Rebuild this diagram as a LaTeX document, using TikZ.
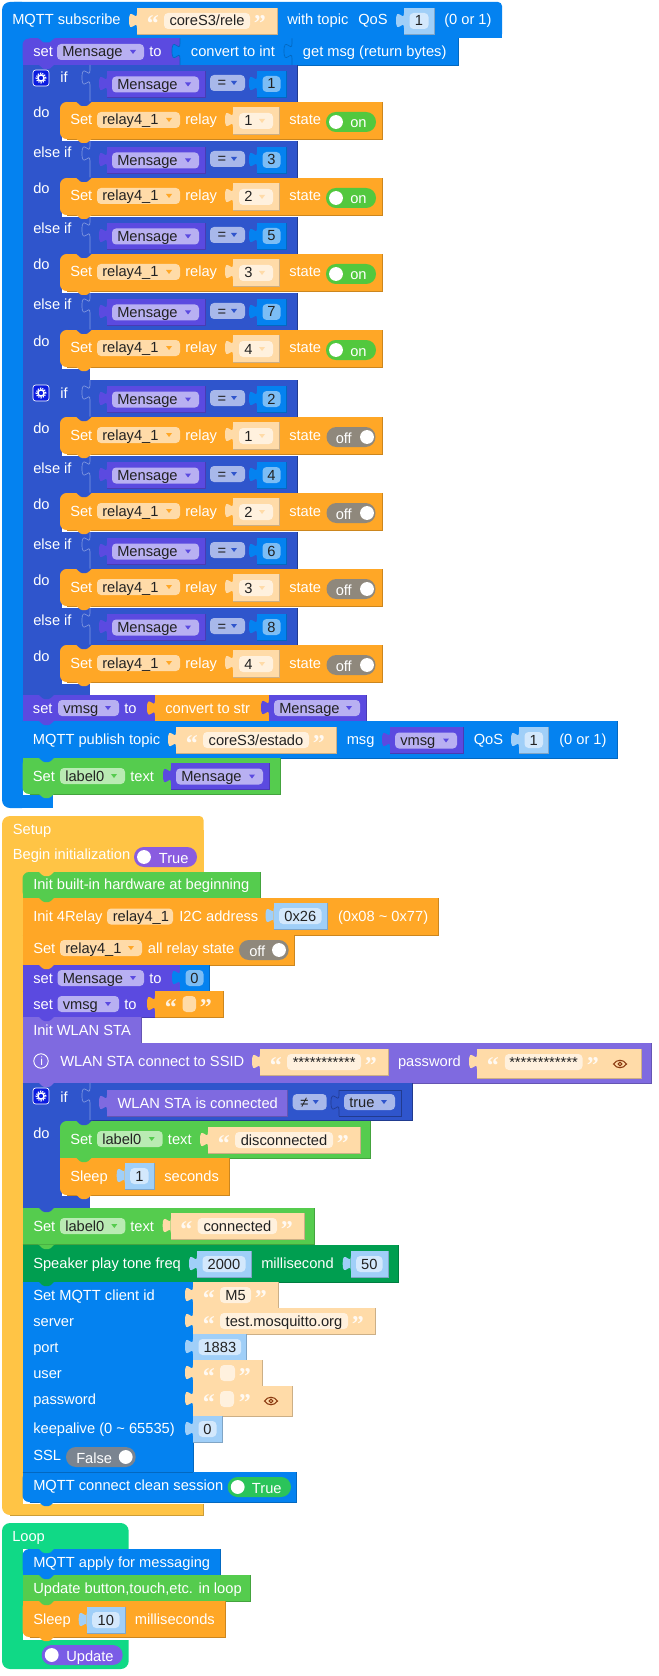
\documentclass[tikz,border=0pt]{standalone}
\usepackage{fontspec}
\setmainfont{Liberation Sans}
\newfontfamily\qtfont{Liberation Serif}

\definecolor{mqttblue}{HTML}{0482F0}
\definecolor{ifblue}{HTML}{2F55CC}
\definecolor{varpurple}{HTML}{5B4AE0}
\definecolor{varfield}{HTML}{B8B0F2}
\definecolor{wlanpurple}{HTML}{7F6AE0}
\definecolor{relayorange}{HTML}{FFA726}
\definecolor{strpeach}{HTML}{FFDBA8}
\definecolor{strfield}{HTML}{FFF1DE}
\definecolor{okgreen}{HTML}{55CC4E}
\definecolor{okfield}{HTML}{B9EBB3}
\definecolor{setupyellow}{HTML}{FFC445}
\definecolor{loopgreen}{HTML}{10D986}
\definecolor{speakergreen}{HTML}{009E50}
\definecolor{numlight}{HTML}{A0CFF8}
\definecolor{numfield}{HTML}{D3E8FC}
\definecolor{numsky}{HTML}{7CBDF5}
\definecolor{opfield}{HTML}{A8B8EA}
\definecolor{offgrey}{HTML}{8F887C}
\definecolor{falsegrey}{HTML}{7A8490}
\definecolor{ongreen}{HTML}{52C83E}
\definecolor{truegreen}{HTML}{2BC45A}
\definecolor{togglepurple}{HTML}{8A5CE0}
\definecolor{updatepurple}{HTML}{7A5CE6}
\definecolor{eyered}{HTML}{8B3A10}
\definecolor{gearblue}{HTML}{0A1BE0}
\definecolor{darktext}{HTML}{222222}

\tikzset{
  lbl/.style={font=\fontsize{11}{13}\selectfont, text=white, inner sep=0pt, anchor=base west},
  dk/.style={font=\fontsize{11}{13}\selectfont, text=darktext, inner sep=0pt, anchor=base west},
  dkc/.style={dk, anchor=base},
  qt/.style={font=\qtfont\bfseries\fontsize{18}{18}\selectfont, text=white, opacity=.85, inner sep=0pt, anchor=base west},
  edge/.style={line width=.5pt}
}

% flat block with its darker lower and right edge
\newcommand{\blk}[5]{
  \fill[#1] ({#2},{#3}) rectangle ({#4},{#5});
  \draw[edge,#1!80!black] ({#2},{#5}) -- ({#4},{#5}) -- ({#4},{#3});
}
% block rounded on its left side
\newcommand{\blkr}[5]{
  \fill[#1,rounded corners=5pt] ({#2},{#3}) rectangle ({#2+14},{#5});
  \fill[#1] ({#2+7},{#3}) rectangle ({#4},{#5});
  \draw[edge,#1!80!black] ({#2+7},{#5}) -- ({#4},{#5}) -- ({#4},{#3});
}
% rounded only at the top left
\newcommand{\blkt}[5]{
  \blkr{#1}{#2}{#3}{#4}{#5}
  \fill[#1] ({#2},{#5-8}) rectangle ({#2+8},{#5});
}
\newcommand{\tabin}[3]{
  \fill[#3,shift={({#1},{#2})}] (0,5) .. controls (0,15) and (-8,-3) .. (-8,12.5) .. controls (-8,28) and (0,10) .. (0,20) -- cycle;
}
% outline of a tab on a block of the same colour
\newcommand{\tabline}[4]{
  \draw[edge,#3,shift={({#1},{#2})}] (0,0) -- (0,5) .. controls (0,15) and (-8,-3) .. (-8,12.5) .. controls (-8,28) and (0,10) .. (0,20) -- (0,#4);
}
\newcommand{\notch}[3]{
  \fill[#3,shift={({#1},{#2})}] (15,-.5) .. controls (18,-.5) and (19,4) .. (22,4) -- (26,4) .. controls (29,4) and (30,-.5) .. (33,-.5) -- cycle;
}
\newcommand{\arrowdn}[3]{
  \fill[#3,shift={({#1},{#2})}] (-3,-2) -- (3,-2) -- (0,2) -- cycle;
}
% dropdown field: name, x1, y, x2, field colour, triangle colour, text
\newcommand{\fldd}[7]{
  \fill[#5,rounded corners=3pt] ({#2},{#3}) rectangle ({#4},{#3+16});
  \node[dk] (#1) at ({#2+5},{#3+13}) {#7};
  \arrowdn{#4-11}{#3+8}{#6}
}
\newcommand{\strval}[5]{
  \tabin{#2}{#3}{strpeach}
  \blk{strpeach}{#2}{#3}{#4}{#3+26}
  \fill[strfield,rounded corners=3pt] ({#2+27},{#3+5}) rectangle ({#4-27},{#3+21});
  \node[qt] (#1l) at ({#2+9.5},{#3+24}) {“};
  \node[qt] (#1r) at ({#4-23.5},{#3+24}) {”};
  \node[dkc] (#1) at ({(#2+#4)/2},{#3+18}) {#5};
}
% number block: name, x1, y, x2, block colour, field colour, text
\newcommand{\numval}[7]{
  \tabin{#2}{#3}{#5}
  \blk{#5}{#2}{#3}{#4}{#3+26}
  \fill[#6,rounded corners=3pt] ({#2+5.5},{#3+5}) rectangle ({#4-5.5},{#3+21});
  \node[dkc] (#1) at ({(#2+#4)/2},{#3+18}) {#7};
}
\newcommand{\varval}[5]{
  \tabin{#2}{#3}{varpurple}
  \blk{varpurple}{#2}{#3}{#4}{#3+26}
  \fldd{#1}{#2+5}{#3+5.5}{#4-6}{varfield}{varpurple}{#5}
}
% pill: name, x1, y, x2, colour, knob x, text x, text
\newcommand{\pill}[8]{
  \fill[#5,rounded corners=7.4pt] ({#2},{#3}) rectangle ({#4},{#3+20});
  \fill[white] ({#6},{#3+10}) circle (5.2pt);
  \node[lbl] (#1) at ({#7},{#3+16}) {#8};
}
\newcommand{\relayrow}[4]{
  \blkr{relayorange}{60}{#2}{382}{#2+37}
  \notch{60}{#2}{ifblue}
  \node[lbl] (#1set) at (70,{#2+23}) {Set};
  \fldd{#1dev}{97}{#2+10}{180}{strpeach}{relayorange}{relay4\_1}
  \node[lbl] (#1rel) at (185,{#2+23}) {relay};
  \tabin{233}{#2+5}{strpeach}
  \blk{strpeach}{233}{#2+5}{279}{#2+32}
  \fill[strfield,rounded corners=3pt] (239,{#2+11}) rectangle (273,{#2+27});
  \node[dk] (#1num) at (244,{#2+24}) {#3};
  \arrowdn{262}{#2+19}{strpeach}
  \node[lbl] (#1sta) at (289,{#2+23}) {state};
  #4
  \notch{60}{#2+37}{relayorange}
}
\newcommand{\onpill}[2]{\pill{#1}{326}{#2+10}{376}{ongreen}{336}{350}{on}}
\newcommand{\offpill}[2]{\pill{#1}{326.5}{#2+10}{375.5}{offgrey}{367}{335.5}{off}}
\newcommand{\ifrow}[3]{
  \fill[ifblue] (90,{#2}) rectangle (297,{#2+37});
  \draw[edge,ifblue!70!black] (90,{#2+37}) -- (297,{#2+37}) -- (297,{#2});
  \tabline{90}{#2}{ifblue!60!white}{37}
  \varval{#1var}{107}{#2+6}{205}{Mensage}
  \fldd{#1op}{210}{#2+10}{245}{opfield}{ifblue}{\,=}
  \numval{#1num}{257}{#2+6}{286}{mqttblue}{numsky}{#3}
}
\newcommand{\gear}[1]{
  \fill[gearblue,draw=white,edge,rounded corners=2pt] (33,{#1}) rectangle (49,{#1+16});
  \draw[white,line width=1.1pt] (41,{#1+8}) circle (2.3pt);
  \draw[white,line width=1pt,dash pattern=on .9pt off .9pt] (41,{#1+8}) circle (3.6pt);
}
\newcommand{\eye}[2]{
  \draw[eyered,line width=.8pt,shift={(#1,#2)}] (-6.5,0) .. controls (-3,-5) and (3,-5) .. (6.5,0) .. controls (3,5) and (-3,5) .. (-6.5,0) -- cycle;
  \draw[eyered,line width=.8pt] (#1,#2) circle (1.4pt);
}

\begin{document}
\begin{tikzpicture}[x=.75pt,y=-.75pt]
    \useasboundingbox (0,0) rectangle (658,1676);

    % subscribe block
    \fill[mqttblue,rounded corners=6pt] (2,2) rectangle (30,808);
    \fill[mqttblue,rounded corners=3pt] (10,2) rectangle (502,38);
    \fill[mqttblue] (10,30) rectangle (502,38);
    \fill[mqttblue] (10,795) rectangle (53,808);
    \node[lbl] (subtxt) at (12,25) {MQTT subscribe};
    \strval{subtopic}{137}{8}{277}{coreS3/rele}
    \node[lbl] (subwith) at (287,25) {with topic};
    \node[lbl] (subqos) at (358,25) {QoS};
    \numval{subnum}{404}{8}{434}{numlight}{numfield}{1}
    \node[lbl] (subrange) at (444,25) {(0 or 1)};

    \blkt{varpurple}{22.5}{38.5}{180}{65}
    \notch{22.5}{38.5}{mqttblue}
    \node[lbl] (settxt) at (33,57) {set};
    \fldd{setvar}{57}{44}{144}{varfield}{varpurple}{Mensage}
    \node[lbl] (setto) at (149,57) {to};
    \blk{mqttblue}{180}{38.5}{292}{65}
    \tabin{180}{39}{mqttblue}
    \tabline{180}{38.5}{mqttblue!80!black}{26.5}
    \node[lbl] (convint) at (190.7,57) {convert to int};
    \blk{mqttblue}{292}{38.5}{458}{65}
    \tabin{292}{39}{mqttblue}
    \tabline{292}{38.5}{mqttblue!80!black}{26.5}
    \node[lbl] (getmsg) at (302.7,57) {get msg (return bytes)};

    % first if
    \fill[ifblue] (22.5,65) rectangle (60,379);
    \fill[ifblue] (60,65) rectangle (90,379);
    \fill[white] (62,130) rectangle (90,141);
    \fill[white] (62,206) rectangle (90,217);
    \fill[white] (62,282) rectangle (90,293);
    \fill[white] (62,358) rectangle (90,369);
    \notch{22.5}{65}{varpurple}
    \gear{70}
    \node[lbl] (ifa) at (60,83) {if};
    \node[lbl] (doa) at (33,118) {do};
    \ifrow{ra}{65}{1}
    \relayrow{rb}{102}{1}{\onpill{pb}{102}}
    \node[lbl] (elb) at (33,158) {else if};
    \node[lbl] (dob) at (33,194) {do};
    \ifrow{rc}{141}{3}
    \relayrow{rd}{178}{2}{\onpill{pd}{178}}
    \node[lbl] (elc) at (33,234) {else if};
    \node[lbl] (doc) at (33,270) {do};
    \ifrow{re}{217}{5}
    \relayrow{rf}{254}{3}{\onpill{pf}{254}}
    \node[lbl] (eld) at (33,310) {else if};
    \node[lbl] (dod) at (33,346) {do};
    \ifrow{rg}{293}{7}
    \relayrow{rh}{330}{4}{\onpill{ph}{330}}

    % second if
    \fill[ifblue] (22.5,379) rectangle (60,695);
    \fill[ifblue] (60,379) rectangle (90,695);
    \fill[white] (62,445) rectangle (90,456);
    \fill[white] (62,521) rectangle (90,532);
    \fill[white] (62,597) rectangle (90,608);
    \fill[white] (62,673) rectangle (90,684);
    \notch{22.5}{379}{ifblue}
    \gear{385}
    \node[lbl] (ifb) at (60,398) {if};
    \node[lbl] (doe) at (33,433) {do};
    \ifrow{sa}{380}{2}
    \relayrow{sb}{417}{1}{\offpill{qb}{417}}
    \node[lbl] (ele) at (33,473) {else if};
    \node[lbl] (dof) at (33,509) {do};
    \ifrow{sc}{456}{4}
    \relayrow{sd}{493}{2}{\offpill{qd}{493}}
    \node[lbl] (elf) at (33,549) {else if};
    \node[lbl] (dog) at (33,585) {do};
    \ifrow{se}{532}{6}
    \relayrow{sf}{569}{3}{\offpill{qf}{569}}
    \node[lbl] (elg) at (33,625) {else if};
    \node[lbl] (doh) at (33,661) {do};
    \ifrow{sg}{608}{8}
    \relayrow{sh}{645}{4}{\offpill{qh}{645}}

    % publish part
    \blk{varpurple}{22.5}{695}{155}{721}
    \node[lbl] (setv) at (32.7,713) {set};
    \fldd{setvvar}{58}{700}{119}{varfield}{varpurple}{vmsg}
    \node[lbl] (setvto) at (124,713) {to};
    \blk{relayorange}{155}{695}{269}{721}
    \tabin{155}{695.5}{relayorange}
    \node[lbl] (convstr) at (165,713) {convert to str};
    \tabin{269}{695}{varpurple}
    \blk{varpurple}{269}{695}{366}{721}
    \fldd{convvar}{274}{700}{360}{varfield}{varpurple}{Mensage}
    \notch{22.5}{695}{ifblue}

    \blk{mqttblue}{22.5}{721}{617}{758}
    \node[lbl] (pubtxt) at (32.7,744) {MQTT publish topic};
    \strval{pubtopic}{176}{727}{336}{coreS3/estado}
    \node[lbl] (pubmsg) at (346.5,744) {msg};
    \varval{pubvar}{390}{727}{463}{vmsg}
    \node[lbl] (pubqos) at (473.5,744) {QoS};
    \numval{pubnum}{519}{727}{548.5}{numlight}{numfield}{1}
    \node[lbl] (pubrange) at (559,744) {(0 or 1)};
    \notch{22.5}{721}{varpurple}

    \fill[white] (22.5,780) rectangle (53,795);
    \blkr{okgreen}{22.5}{758}{280}{794}
    \fill[okgreen] (22.5,758) rectangle (32,780);
    \node[lbl] (lbltxt) at (32.7,781) {Set};
    \fldd{lblfld}{60}{768}{125}{okfield}{okgreen}{label0}
    \node[lbl] (lbltext) at (130,781) {text};
    \varval{lblvar}{171}{763}{269}{Mensage}
    \notch{22.5}{758}{mqttblue}
    \notch{22.5}{794}{okgreen}

    % setup block
    \fill[setupyellow,rounded corners=6pt] (2,816) rectangle (30,1515);
    \fill[setupyellow,rounded corners=3pt] (10,816) rectangle (203.5,872);
    \fill[setupyellow] (10,830) rectangle (203.5,872);
    \fill[setupyellow] (10,1504) rectangle (203,1515);
    \draw[edge,setupyellow!80!black] (10,1515) -- (203,1515) -- (203,1504);
    \node[lbl] (setuptxt) at (12.6,834) {Setup};
    \node[lbl] (begintxt) at (12.6,859) {Begin initialization};
    \pill{begintog}{134}{847}{197}{togglepurple}{144}{158.6}{True}

    \blkt{okgreen}{22.5}{872}{260}{898}
    \notch{22.5}{872}{setupyellow}
    \node[lbl] (hwtxt) at (33,889) {Init built-in hardware at beginning};
    \blk{relayorange}{22.5}{898}{438}{935}
    \notch{22.5}{898}{okgreen}
    \node[lbl] (inittxt) at (33,921) {Init 4Relay};
    \fill[strpeach,rounded corners=3pt] (107,908.5) rectangle (173,924.5);
    \node[dk] (initdev) at (112.5,921) {relay4\_1};
    \node[lbl] (initaddr) at (179,921) {I2C address};
    \numval{initnum}{273.6}{903}{327}{numlight}{numfield}{0x26}
    \node[lbl] (initrange) at (337.8,921) {(0x08 \textasciitilde{} 0x77)};

    \blk{relayorange}{22.5}{935}{294.6}{965}
    \notch{22.5}{935}{relayorange}
    \node[lbl] (alltxt) at (33,953) {Set};
    \fldd{alldev}{60}{940}{142}{strpeach}{relayorange}{relay4\_1}
    \node[lbl] (allstate) at (147.7,953) {all relay state};
    \pill{alltog}{239}{940}{288.7}{offgrey}{279}{249}{off}

    \blk{varpurple}{22.5}{965}{180}{991}
    \notch{22.5}{965}{relayorange}
    \node[lbl] (set0) at (33,983) {set};
    \fldd{set0var}{57.5}{970}{144}{varfield}{varpurple}{Mensage}
    \node[lbl] (set0to) at (149,983) {to};
    \numval{set0num}{180}{965}{209}{mqttblue}{numsky}{0}

    \blk{varpurple}{22.5}{991}{155}{1017}
    \notch{22.5}{991}{varpurple}
    \node[lbl] (set1) at (33,1009) {set};
    \fldd{set1var}{57.5}{996}{119}{varfield}{varpurple}{vmsg}
    \node[lbl] (set1to) at (124,1009) {to};
    \tabin{155}{991}{relayorange}
    \blk{relayorange}{155}{991}{223.7}{1017}
    \fill[strpeach,rounded corners=3pt] (182.5,996) rectangle (196,1012);
    \node[qt] (set1l) at (164.5,1015) {“};
    \node[qt] (set1r) at (199.5,1015) {”};

    \blk{wlanpurple}{22.5}{1017}{141}{1043}
    \notch{22.5}{1017}{varpurple}
    \node[lbl] (wlantxt) at (33,1035) {Init WLAN STA};

    \blk{wlanpurple}{22.5}{1043}{651.6}{1083}
    \notch{22.5}{1043}{wlanpurple}
    \draw[white,line width=.7pt] (41,1061) circle (5.4pt);
    \node[lbl,font=\fontsize{9}{9}\selectfont] (wlaninfo) at (40,1065) {i};
    \node[lbl] (wlancon) at (60,1066) {WLAN STA connect to SSID};
    \strval{wlanssid}{260}{1049}{388}{}
    \node[dk] (ssidstar) at (292.5,1067) {***********};
    \node[lbl] (wlanpw) at (397.8,1066) {password};
    \tabin{477}{1049}{strpeach}
    \blk{strpeach}{477}{1049}{641}{1078}
    \fill[strfield,rounded corners=3pt] (504.8,1054) rectangle (582.5,1070);
    \node[qt] (pwl) at (486.5,1073) {“};
    \node[qt] (pwr) at (586.5,1073) {”};
    \node[dk] (pwstar) at (509,1067) {************};
    \eye{620}{1064}

    % wlan if
    \fill[ifblue] (22.5,1083) rectangle (90,1208);
    \fill[white] (62,1186) rectangle (90,1196);
    \fill[ifblue] (90,1083) rectangle (412.7,1120.7);
    \draw[edge,ifblue!70!black] (90,1120.7) -- (412.7,1120.7) -- (412.7,1083);
    \tabline{90}{1083}{ifblue!60!white}{37}
    \notch{22.5}{1083}{wlanpurple}
    \gear{1088}
    \node[lbl] (ifc) at (60,1102) {if};
    \node[lbl] (doi) at (33,1138) {do};
    \tabin{107}{1090}{wlanpurple}
    \blk{wlanpurple}{107}{1090}{287}{1116}
    \node[lbl] (isconn) at (117.3,1108) {WLAN STA is connected};
    \fldd{neop}{292.7}{1094}{326.7}{opfield}{ifblue}{\,≠}
    \tabline{339}{1090}{ifblue!70!black}{26}
    \draw[edge,ifblue!70!black] (339,1116) -- (401.7,1116) -- (401.7,1090) -- (339,1090);
    \fldd{truefld}{344}{1094}{395}{opfield}{ifblue}{true}

    \blkr{okgreen}{60}{1121}{370.7}{1158}
    \fill[okgreen] (60,1145) rectangle (70,1158);
    \notch{60}{1121}{ifblue}
    \node[lbl] (dctxt) at (70,1144) {Set};
    \fldd{dcfld}{97}{1131}{162.7}{okfield}{okgreen}{label0}
    \node[lbl] (dctext) at (167.7,1144) {text};
    \strval{dcstr}{208}{1127}{360}{disconnected}
    \blkr{relayorange}{60}{1158}{229}{1195}
    \fill[relayorange] (60,1158) rectangle (70,1170);
    \notch{60}{1158}{okgreen}
    \notch{60}{1195}{relayorange}
    \node[lbl] (sltxt) at (70,1181) {Sleep};
    \numval{slnum}{124.7}{1163}{154}{numlight}{numfield}{1}
    \node[lbl] (slsec) at (164,1181) {seconds};

    \blk{okgreen}{22.5}{1208}{314}{1244}
    \notch{22.5}{1208}{ifblue}
    \node[lbl] (cotxt) at (33,1231) {Set};
    \fldd{cofld}{60}{1218}{125.3}{okfield}{okgreen}{label0}
    \node[lbl] (cotext) at (130,1231) {text};
    \strval{costr}{170.7}{1213}{304}{connected}

    \blk{speakergreen}{22.5}{1245}{398.7}{1282}
    \notch{22.5}{1245}{okgreen}
    \node[lbl] (sptxt) at (33,1268) {Speaker play tone freq};
    \numval{spfreq}{197}{1251}{251}{numlight}{numfield}{2000}
    \node[lbl] (spms) at (261,1268) {millisecond};
    \numval{spdur}{350.7}{1251}{388}{numlight}{numfield}{50}

    % mqtt client
    \blk{mqttblue}{22.5}{1282}{193}{1472}
    \notch{22.5}{1282}{speakergreen}
    \node[lbl] (cltxt) at (33,1300) {Set MQTT client id};
    \node[lbl] (clsrv) at (33,1326) {server};
    \node[lbl] (clport) at (33,1352) {port};
    \node[lbl] (cluser) at (33,1378) {user};
    \node[lbl] (clpw) at (33,1404) {password};
    \node[lbl] (clkeep) at (33,1433) {keepalive (0 \textasciitilde{} 65535)};
    \node[lbl] (clssl) at (33,1460) {SSL};
    \strval{clid}{193}{1282}{278}{M5}
    \strval{clhost}{193}{1308}{375}{test.mosquitto.org}
    \numval{clpnum}{193}{1334}{246.7}{numlight}{numfield}{1883}
    \strval{clusr}{193}{1360}{262}{}
    \tabin{193}{1386}{strpeach}
    \blk{strpeach}{193}{1386}{292}{1416}
    \fill[strfield,rounded corners=3pt] (220,1391) rectangle (234,1407);
    \node[qt] (cpwl) at (202.5,1410) {“};
    \node[qt] (cpwr) at (238.5,1410) {”};
    \eye{271}{1401}
    \numval{clknum}{193}{1416}{222}{numlight}{numfield}{0}
    \pill{cltog}{66}{1447}{135.7}{falsegrey}{125.7}{76}{False}

    \fill[white] (22.5,1490) rectangle (40,1504);
    \blkr{mqttblue}{22.5}{1472}{296.7}{1502}
    \fill[mqttblue] (22.5,1472) rectangle (32,1490);
    \draw[edge,mqttblue!80!black] (22.5,1472) -- (193,1472);
    \notch{22.5}{1502}{mqttblue}
    \node[lbl] (contxt) at (33,1490) {MQTT connect clean session};
    \pill{contog}{227.7}{1477}{291}{truegreen}{237.7}{251.7}{True}

    % loop block
    \fill[loopgreen,rounded corners=6pt] (2,1523) rectangle (128.7,1669);
    \fill[white] (22.5,1549) rectangle (130,1640);
    \fill[loopgreen] (2,1540) rectangle (22.5,1650);
    \node[lbl] (looptxt) at (12,1541) {Loop};
    \blkt{mqttblue}{22.5}{1549}{220}{1575}
    \notch{22.5}{1549}{loopgreen}
    \node[lbl] (apply) at (33,1567) {MQTT apply for messaging};
    \blk{okgreen}{22.5}{1575}{250}{1601}
    \notch{22.5}{1575}{mqttblue}
    \node[lbl] (update) at (33,1593) {Update button,touch,etc. in loop};
    \blkr{relayorange}{22.5}{1601}{225.7}{1637}
    \fill[relayorange] (22.5,1601) rectangle (32,1620);
    \notch{22.5}{1601}{okgreen}
    \notch{22.5}{1637}{relayorange}
    \node[lbl] (lptxt) at (33,1624) {Sleep};
    \numval{lpnum}{86.7}{1607}{125}{numlight}{numfield}{10}
    \node[lbl] (lpms) at (134.7,1624) {milliseconds};
    \pill{lptog}{41.7}{1645}{122.7}{updatepurple}{51.7}{66}{Update}
\end{tikzpicture}
\end{document}
